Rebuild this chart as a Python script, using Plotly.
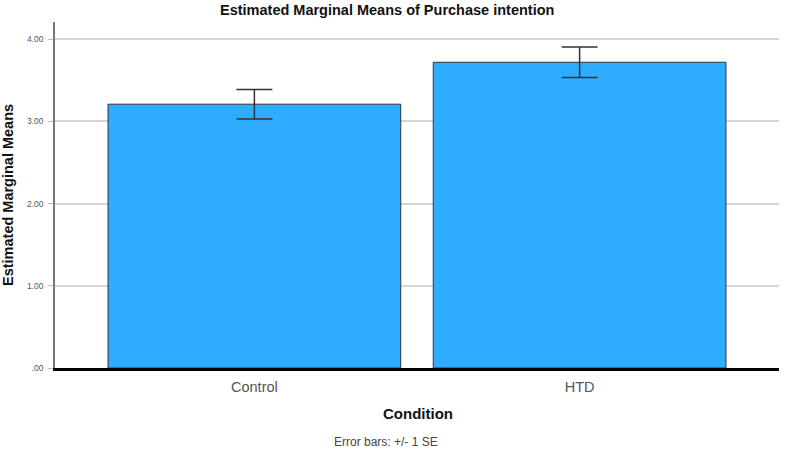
import plotly.graph_objects as go

categories = ["Control", "HTD"]
means = [3.21, 3.72]
se = [0.18, 0.185]
y_tick_vals = [0, 1, 2, 3, 4]
y_tick_text = [".00", "1.00", "2.00", "3.00", "4.00"]

FONT = "Liberation Sans, Arial, sans-serif"

L, R, T, B = 55, 6, 22, 85
W, H = 785, 453
PW, PH = W - L - R, H - T - B


def px(xpix):
    return (xpix - L) / PW


def py(ypix):
    return (H - B - ypix) / PH


fig = go.Figure()
fig.add_trace(go.Bar(
    x=categories, y=means, width=0.9,
    marker=dict(color="#2FACFF", line=dict(color="#333333", width=1)),
    error_y=dict(type="data", array=se, visible=True, color="#333333", thickness=1.5, width=18),
    showlegend=False,
))

fig.update_layout(
    width=W, height=H,
    margin=dict(l=L, r=R, t=T, b=B),
    paper_bgcolor="white", plot_bgcolor="white",
    font=dict(family=FONT, color="#333333"),
    xaxis=dict(
        range=[-0.613, 1.613], showline=True, linecolor="#000000", linewidth=3,
        showgrid=False, ticks="", tickfont=dict(size=14.5, color="#555555"),
        ticklabelstandoff=4,
    ),
    yaxis=dict(
        range=[0, 4.21], showline=True, linecolor="#777777", linewidth=1.5,
        showgrid=True, gridcolor="#D6D6D6", gridwidth=1.5, zeroline=False,
        tickvals=y_tick_vals, ticktext=y_tick_text,
        ticks="outside", ticklen=5, tickcolor="#BBBBBB", tickwidth=1,
        tickfont=dict(size=8.5, color="#555555"), ticklabelstandoff=3,
    ),
    annotations=[
        dict(text="<b>Estimated Marginal Means of Purchase intention</b>",
             x=px(387), xref="paper", y=py(10), yref="paper", showarrow=False,
             font=dict(size=14.5, color="#111111"), xanchor="center", yanchor="middle"),
        dict(text="<b>Estimated Marginal Means</b>", textangle=-90,
             x=px(8), xref="paper", y=py(195), yref="paper", showarrow=False,
             font=dict(size=14.5, color="#111111"), xanchor="center", yanchor="middle"),
        dict(text="<b>Condition</b>",
             x=px(418), xref="paper", y=py(413), yref="paper", showarrow=False,
             font=dict(size=15, color="#111111"), xanchor="center", yanchor="middle"),
        dict(text="Error bars: +/- 1 SE",
             x=px(386), xref="paper", y=py(442), yref="paper", showarrow=False,
             font=dict(size=12, color="#444444"), xanchor="center", yanchor="middle"),
    ],
)

fig.write_html("out.html")
